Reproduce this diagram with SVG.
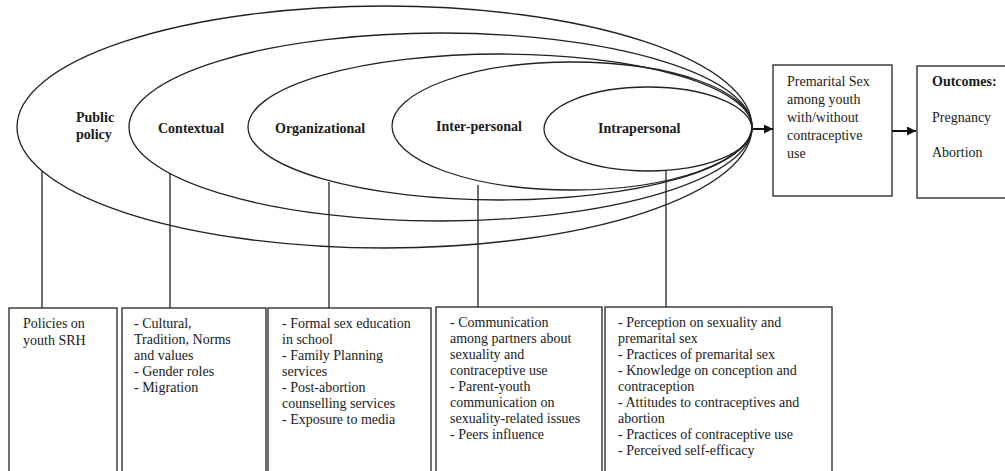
<svg xmlns="http://www.w3.org/2000/svg" width="1005" height="471" viewBox="0 0 1005 471">
  <style>
    .ring { fill: none; stroke: #222; stroke-width: 1.3; }
    .box { fill: #fff; stroke: #333; stroke-width: 1.4; }
    .lbl { font-family: "Liberation Serif", "Times New Roman", serif; font-size: 14px; fill: #1a1a1a; }
    .bold { font-weight: bold; }
    .wire { stroke: #222; stroke-width: 1.3; fill: none; }
    .flow { stroke: #111; stroke-width: 2; fill: none; }
  </style>
  <defs>
    <marker id="head" markerUnits="userSpaceOnUse" markerWidth="9" markerHeight="9" refX="9" refY="4.5" orient="auto">
      <path d="M0,0 L9,4.5 L0,9 z" fill="#111"/>
    </marker>
  </defs>

  <rect width="1005" height="471" fill="#fff"/>

  <!-- nested levels, all meeting at the right-hand point -->
  <g id="level-public-policy">
    <ellipse class="ring" cx="384.5" cy="127" rx="367.5" ry="121"/>
    <text class="lbl bold" x="76" y="122">Public</text>
    <text class="lbl bold" x="76" y="139">policy</text>
  </g>
  <g id="level-contextual">
    <ellipse class="ring" cx="440.5" cy="127" rx="311.5" ry="94"/>
    <text class="lbl bold" x="158" y="133">Contextual</text>
  </g>
  <g id="level-organizational">
    <ellipse class="ring" cx="500" cy="127" rx="252" ry="73"/>
    <text class="lbl bold" x="275" y="133">Organizational</text>
  </g>
  <g id="level-interpersonal">
    <ellipse class="ring" cx="572" cy="126" rx="180" ry="64"/>
    <text class="lbl bold" x="436" y="131">Inter-personal</text>
  </g>
  <g id="level-intrapersonal">
    <ellipse class="ring" cx="648" cy="129" rx="104" ry="42"/>
    <text class="lbl bold" x="598" y="133">Intrapersonal</text>
  </g>

  <!-- behaviour and outcomes -->
  <g id="behaviour">
    <rect class="box" x="773" y="65" width="119" height="131"/>
    <text class="lbl" x="787" y="86">Premarital Sex</text>
    <text class="lbl" x="787" y="104">among youth</text>
    <text class="lbl" x="787" y="122">with/without</text>
    <text class="lbl" x="787" y="140">contraceptive</text>
    <text class="lbl" x="787" y="158">use</text>
  </g>
  <g id="outcomes">
    <rect class="box" x="917" y="66" width="100" height="132"/>
    <text class="lbl bold" x="932" y="86">Outcomes:</text>
    <text class="lbl" x="932" y="122">Pregnancy</text>
    <text class="lbl" x="932" y="157">Abortion</text>
  </g>

  <!-- factor lists under each level -->
  <g id="factors-public-policy">
    <rect class="box" x="9" y="308" width="108" height="175"/>
    <text class="lbl" x="23" y="328">Policies on</text>
    <text class="lbl" x="23" y="345">youth SRH</text>
  </g>
  <g id="factors-contextual">
    <rect class="box" x="122" y="308" width="144" height="175"/>
    <text class="lbl" x="134" y="328">- Cultural,</text>
    <text class="lbl" x="134" y="344">Tradition, Norms</text>
    <text class="lbl" x="134" y="360">and values</text>
    <text class="lbl" x="134" y="376">- Gender roles</text>
    <text class="lbl" x="134" y="392">- Migration</text>
  </g>
  <g id="factors-organizational">
    <rect class="box" x="268" y="308" width="163" height="175"/>
    <text class="lbl" x="282" y="328">- Formal sex education</text>
    <text class="lbl" x="282" y="344">in school</text>
    <text class="lbl" x="282" y="360">- Family Planning</text>
    <text class="lbl" x="282" y="376">services</text>
    <text class="lbl" x="282" y="392">- Post-abortion</text>
    <text class="lbl" x="282" y="408">counselling services</text>
    <text class="lbl" x="282" y="424">- Exposure to media</text>
  </g>
  <g id="factors-interpersonal">
    <rect class="box" x="436" y="307" width="166" height="176"/>
    <text class="lbl" x="450" y="327">- Communication</text>
    <text class="lbl" x="450" y="343">among partners about</text>
    <text class="lbl" x="450" y="359">sexuality and</text>
    <text class="lbl" x="450" y="375">contraceptive use</text>
    <text class="lbl" x="450" y="391">- Parent-youth</text>
    <text class="lbl" x="450" y="407">communication on</text>
    <text class="lbl" x="450" y="423">sexuality-related issues</text>
    <text class="lbl" x="450" y="439">- Peers influence</text>
  </g>
  <g id="factors-intrapersonal">
    <rect class="box" x="605" y="307" width="227" height="176"/>
    <text class="lbl" x="618" y="327">- Perception on sexuality and</text>
    <text class="lbl" x="618" y="343">premarital sex</text>
    <text class="lbl" x="618" y="359">- Practices of premarital sex</text>
    <text class="lbl" x="618" y="375">- Knowledge on conception and</text>
    <text class="lbl" x="618" y="391">contraception</text>
    <text class="lbl" x="618" y="407">- Attitudes to contraceptives and</text>
    <text class="lbl" x="618" y="423">abortion</text>
    <text class="lbl" x="618" y="439">- Practices of contraceptive use</text>
    <text class="lbl" x="618" y="455">- Perceived self-efficacy</text>
  </g>

  <!-- connectors -->
  <g id="connectors">
    <line class="wire" x1="42" y1="171" x2="42" y2="308"/>
    <line class="wire" x1="170" y1="173" x2="170" y2="308"/>
    <line class="wire" x1="329" y1="182" x2="329" y2="308"/>
    <line class="wire" x1="478" y1="185" x2="478" y2="307"/>
    <line class="wire" x1="666" y1="171" x2="666" y2="307"/>
    <line class="flow" x1="753" y1="129" x2="773" y2="129" marker-end="url(#head)"/>
    <line class="flow" x1="892" y1="131" x2="916" y2="131" marker-end="url(#head)"/>
  </g>
</svg>
